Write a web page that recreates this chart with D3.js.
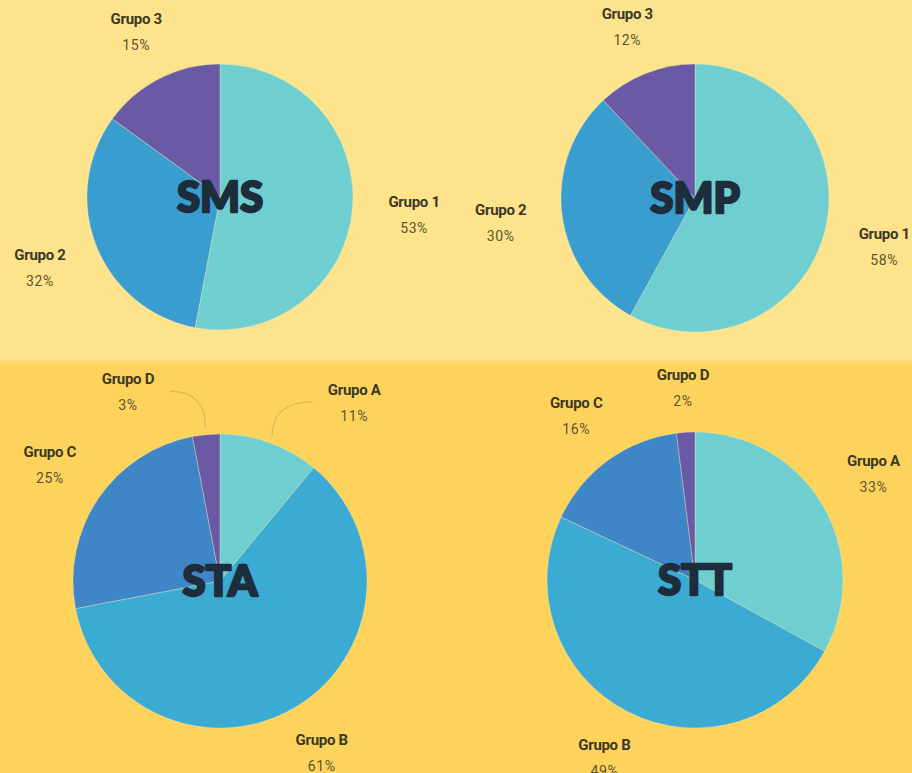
<!DOCTYPE html>
<html>
<head>
<meta charset="utf-8">
<script src="https://cdn.jsdelivr.net/npm/d3@7"></script>
<style>
  html, body { margin: 0; padding: 0; }
  body { width: 912px; height: 773px; overflow: hidden; }
  .lbl { font-family: "Roboto", "Liberation Sans", sans-serif; }
</style>
</head>
<body>
<svg id="chart" width="912" height="773"></svg>
<script>
// chart data
var charts = ["SMS", "SMP", "STA", "STT"];
var groupsTop = ["Grupo 1", "Grupo 2", "Grupo 3"];
var groupsBottom = ["Grupo A", "Grupo B", "Grupo C", "Grupo D"];
var smsValues = [53, 32, 15];
var smpValues = [58, 30, 12];
var staValues = [11, 61, 25, 3];
var sttValues = [33, 49, 16, 2];

// layout for each pie: centre and radius
var layout = {
  SMS: { cx: 220, cy: 197, r: 133 },
  SMP: { cx: 695, cy: 198, r: 134 },
  STA: { cx: 220, cy: 581, r: 147 },
  STT: { cx: 695, cy: 580, r: 148 }
};

// labels that are pulled out with a leader line (angle in degrees, distance past the rim)
var pulled = {
  STA: { "Grupo A": { angle: 37, dist: 76 }, "Grupo D": { angle: 334, dist: 63 } }
};

var colorTop = d3.scaleOrdinal().domain(groupsTop).range(["#6fcfd0", "#3a9dd0", "#6a5aa6"]);
var colorBottom = d3.scaleOrdinal().domain(groupsBottom).range(["#6fcfd0", "#3cabd4", "#3f86c6", "#6a5aa6"]);

var svg = d3.select("#chart");

// background bands
svg.append("rect").attr("x", 0).attr("y", 0).attr("width", 912).attr("height", 362).attr("fill", "#fde38b");
svg.append("rect").attr("x", 0).attr("y", 362).attr("width", 912).attr("height", 411).attr("fill", "#fed35c");
svg.append("rect").attr("x", 0).attr("y", 360).attr("width", 912).attr("height", 4).attr("fill", "#fcd977").attr("opacity", 0.8);

var pie = d3.pie().sort(null).value(function(d) { return d.value; });

function drawPie(name, groups, values, color) {
  var L = layout[name];
  var data = groups.map(function(g, i) { return { group: g, value: values[i] }; });
  var arcs = pie(data);
  var arc = d3.arc().innerRadius(0).outerRadius(L.r);

  var g = svg.append("g").attr("transform", "translate(" + L.cx + "," + L.cy + ")");

  g.selectAll("path.slice")
    .data(arcs)
    .enter().append("path")
    .attr("class", "slice")
    .attr("d", arc)
    .attr("fill", function(d) { return color(d.data.group); })
    .attr("stroke", "rgba(255,245,200,0.3)")
    .attr("stroke-width", 1);

  // centre title, stroked to get the heavy look
  g.append("text")
    .attr("x", 0).attr("y", 0)
    .attr("dy", "0.36em")
    .attr("text-anchor", "middle")
    .attr("font-family", "Lato, 'DejaVu Sans', sans-serif")
    .attr("font-weight", 900)
    .attr("font-size", 42)
    .attr("fill", "#1e2d3b")
    .attr("stroke", "#1e2d3b")
    .attr("stroke-width", 2.4)
    .attr("stroke-linejoin", "round")
    .text(name);

  // slice labels
  arcs.forEach(function(d) {
    var mid = (d.startAngle + d.endAngle) / 2;
    var p = pulled[name] && pulled[name][d.data.group];
    var ang = p ? p.angle * Math.PI / 180 : mid;
    var R = p ? L.r + p.dist : L.r + 43 + 19 * Math.abs(Math.sin(mid));
    var x = Math.sin(ang) * R, y = -Math.cos(ang) * R;

    var t = g.append("g").attr("class", "lbl").attr("transform", "translate(" + x + "," + y + ")");
    t.append("text")
      .attr("y", -8)
      .attr("text-anchor", "middle")
      .attr("font-size", 15)
      .attr("font-weight", "bold")
      .attr("letter-spacing", -0.3)
      .attr("fill", "#3b3826")
      .text(d.data.group);
    t.append("text")
      .attr("y", 18)
      .attr("text-anchor", "middle")
      .attr("font-size", 14)
      .attr("letter-spacing", 0.6)
      .attr("fill", "#5b5435")
      .text(d.data.value + "%");

    if (p) {
      // curved leader from rim to the label
      var sx = Math.sin(mid) * (L.r + 7), sy = -Math.cos(mid) * (L.r + 7);
      var side = x > sx ? -1 : 1;
      var ex = x + side * 42, ey = y - 1;
      g.append("path")
        .attr("d", "M" + ex + "," + ey + " Q" + sx + "," + ey + " " + sx + "," + sy)
        .attr("fill", "none")
        .attr("stroke", "#e3b65a")
        .attr("stroke-width", 1.3);
    }
  });
}

drawPie("SMS", groupsTop, smsValues, colorTop);
drawPie("SMP", groupsTop, smpValues, colorTop);
drawPie("STA", groupsBottom, staValues, colorBottom);
drawPie("STT", groupsBottom, sttValues, colorBottom);
</script>
</body>
</html>
